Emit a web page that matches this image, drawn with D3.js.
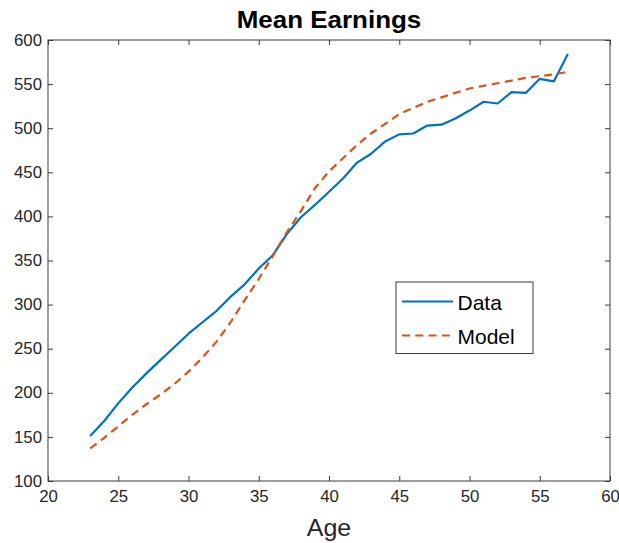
<!DOCTYPE html>
<html><head><meta charset="utf-8">
<script src="https://cdn.jsdelivr.net/npm/d3@7"></script>
<style>
body{margin:0;background:#fff;}
text{font-family:"Liberation Sans",Arial,Helvetica,sans-serif;}
</style></head>
<body><svg id="c" width="619" height="543"></svg>
<script>
const ages = [23,24,25,26,27,28,29,30,31,32,33,34,35,36,37,38,39,40,41,42,43,44,45,46,47,48,49,50,51,52,53,54,55,56,57];
const dataValues = [151,168,188,206,222,237,252,267,280,293,309,323,341,356,380,399,413,428,443,461,471,485,493,494,503,504,511,520,530,528,541,540,556,553,584];
const modelValues = [137,149,162,175,187,198,210,224,240,258,280,305,329,355,382,406,432,451,466,481,494,505,516,523,530,535,540,545,548,551,554,557,559,561,564];
const xTicks = [20,25,30,35,40,45,50,55,60];
const yTicks = [100,150,200,250,300,350,400,450,500,550,600];
const seriesNames = ["Data","Model"];
const seriesColors = ["#0072BD","#D95319"];

const SX = 1.05; // slight horizontal stretch of the reference text
const svg = d3.select("#c");
const m = {l:48, r:610, t:40, b:481};
const x = d3.scaleLinear().domain([20,60]).range([m.l,m.r]);
const y = d3.scaleLinear().domain([100,600]).range([m.b,m.t]);
const axisCol = "#3a3a3a", textCol = "#262626";

function styleAxis(g){
  g.select(".domain").remove();
  g.selectAll("line").attr("stroke",axisCol);
  g.selectAll("text").attr("fill",textCol).attr("font-size",16);
}
svg.append("g").attr("transform",`translate(0,${m.b})`)
  .call(d3.axisBottom(x).tickValues(xTicks).tickSize(-5).tickPadding(10))
  .call(styleAxis).call(g=>g.selectAll("text").attr("transform",`scale(${SX},1)`));
svg.append("g").attr("transform",`translate(0,${m.t})`)
  .call(d3.axisTop(x).tickValues(xTicks).tickSize(-5).tickFormat(""))
  .call(styleAxis);
svg.append("g").attr("transform",`translate(${m.l},0)`)
  .call(d3.axisLeft(y).tickValues(yTicks).tickSize(-5).tickPadding(6))
  .call(styleAxis).call(g=>g.selectAll("text").attr("x",-6/SX).attr("transform",`scale(${SX},1)`));
svg.append("g").attr("transform",`translate(${m.r},0)`)
  .call(d3.axisRight(y).tickValues(yTicks).tickSize(-5).tickFormat(""))
  .call(styleAxis);

svg.append("rect").attr("x",m.l).attr("y",m.t).attr("width",m.r-m.l).attr("height",m.b-m.t)
  .attr("fill","none").attr("stroke",axisCol).attr("stroke-width",1);

const line = d3.line().x((d,i)=>x(ages[i])).y(d=>y(d));
svg.append("path").datum(dataValues).attr("d",line).attr("fill","none")
  .attr("stroke",seriesColors[0]).attr("stroke-width",2.2).attr("stroke-linejoin","round");
svg.append("path").datum(modelValues).attr("d",line).attr("fill","none")
  .attr("stroke",seriesColors[1]).attr("stroke-width",2.2).attr("stroke-dasharray","8,5.3");

// title
svg.append("text").attr("transform",`translate(${(m.l+m.r)/2},28) scale(1.06,1)`)
  .attr("text-anchor","middle").attr("font-size",24.5).attr("font-weight","bold").attr("fill","#000")
  .text("Mean Earnings");
// x label
svg.append("text").attr("transform",`translate(${(m.l+m.r)/2},536) scale(1.04,1)`)
  .attr("text-anchor","middle").attr("font-size",24).attr("fill",textCol).text("Age");

// legend
const lg = svg.append("g");
lg.append("rect").attr("x",396).attr("y",282).attr("width",137).attr("height",71.5)
  .attr("fill","#fff").attr("stroke",axisCol).attr("stroke-width",1);
seriesNames.forEach((n,i)=>{
  const yy = 301.5 + i*34;
  lg.append("line").attr("x1",402).attr("x2",453).attr("y1",yy).attr("y2",yy)
    .attr("stroke",seriesColors[i]).attr("stroke-width",2.2)
    .attr("stroke-dasharray", i===1 ? "8,5.3" : null);
  lg.append("text").attr("transform",`translate(457.5,${yy+8.5})`)
    .attr("font-size",21).attr("fill","#000").text(n);
});
</script></body></html>
